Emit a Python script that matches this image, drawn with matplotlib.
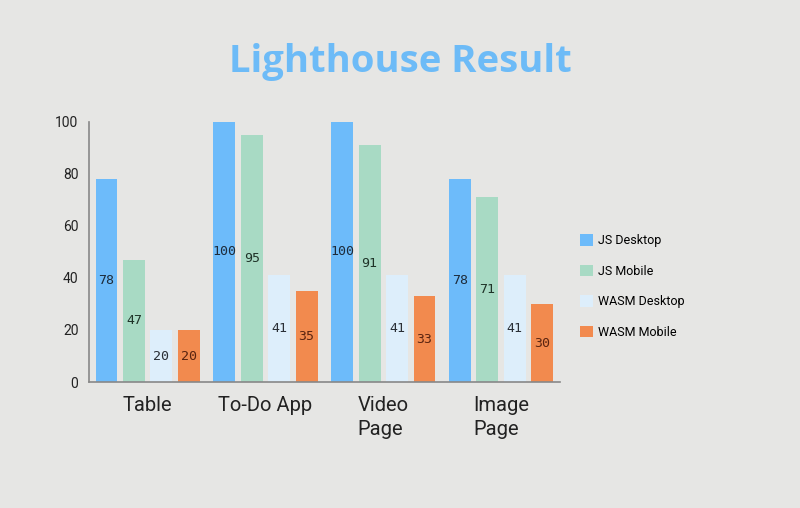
import matplotlib.pyplot as plt
import numpy as np
from matplotlib.patches import Patch

categories = ["Table", "To-Do App", "Video\nPage", "Image\nPage"]
series_names = ["JS Desktop", "JS Mobile", "WASM Desktop", "WASM Mobile"]
js_desktop = [78, 100, 100, 78]
js_mobile = [47, 95, 91, 71]
wasm_desktop = [20, 41, 41, 41]
wasm_mobile = [20, 35, 33, 30]
colors = ["#6dbbfa", "#a8dac4", "#ddeefb", "#f28a4e"]
label_colors = ["#1d2b3a", "#1f3328", "#2a2f36", "#5a2410"]

bg = "#e6e6e4"
fig = plt.figure(figsize=(8, 5.08), dpi=100, facecolor=bg)
ax = fig.add_axes([0.111, 0.248, 0.589, 0.512], facecolor=bg)

x = np.arange(len(categories))
step = 0.233
width = 0.186
all_series = [js_desktop, js_mobile, wasm_desktop, wasm_mobile]
for i, vals in enumerate(all_series):
    pos = x + (i - 1.5) * step
    bars = ax.bar(pos, vals, width, color=colors[i], label=series_names[i])
    for b, v in zip(bars, vals):
        ax.text(b.get_x() + b.get_width() / 2, v / 2, str(v), ha="center", va="center",
                fontsize=9.5, family="DejaVu Sans Mono", color=label_colors[i])

ax.set_xlim(-0.5, 3.5)
ax.set_ylim(0, 100)
ax.set_yticks([0, 20, 40, 60, 80, 100])
ax.set_xticks(x)
ax.set_xticklabels(categories, fontsize=14.5, family="Roboto", color="#222222",
                   linespacing=1.35, multialignment="left")
ax.tick_params(axis="y", length=0, pad=7.5, labelsize=10, labelcolor="#222222")
ax.tick_params(axis="x", length=0, pad=10)
for lbl in ax.get_yticklabels():
    lbl.set_family("Roboto")
for side in ["top", "right"]:
    ax.spines[side].set_visible(False)
for side in ["left", "bottom"]:
    ax.spines[side].set_color("#888888")
    ax.spines[side].set_linewidth(1.2)

fig.text(0.5, 0.878, "Lighthouse Result", ha="center", va="center", fontsize=27.5,
         fontweight="bold", family="Open Sans", color="#6dbbf7")

handles = [Patch(facecolor=c, edgecolor="none") for c in colors]
fig.legend(handles, series_names, loc="center left", bbox_to_anchor=(0.711, 0.436),
           frameon=False, handlelength=1.0, handleheight=1.0,
           labelspacing=1.4, handletextpad=0.45, prop={"family": "Roboto", "size": 9})

fig.savefig("out.png", dpi=100, facecolor=bg)
